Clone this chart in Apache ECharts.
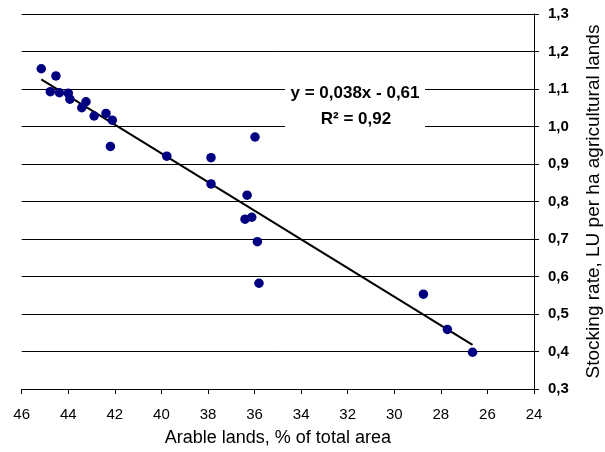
<!DOCTYPE html>
<html>
<head>
<meta charset="utf-8">
<script src="https://cdn.jsdelivr.net/npm/echarts@6/dist/echarts.min.js"></script>
<style>
html,body{margin:0;padding:0;background:#fff;}
#c{width:605px;height:452px;}
</style>
</head>
<body>
<div id="c"></div>
<script>
// Data
var arableLands = [45.16,44.53,44.77,44.38,44.00,43.93,43.24,43.42,42.89,42.38,42.11,42.19,39.77,37.87,35.98,37.87,36.32,36.41,36.12,35.88,35.81,28.75,27.72,26.64];
var stockingRate = [1.154,1.135,1.093,1.090,1.089,1.073,1.066,1.050,1.028,1.035,1.017,0.947,0.921,0.917,0.972,0.847,0.817,0.753,0.758,0.693,0.582,0.553,0.459,0.398];
var xTicks = [46,44,42,40,38,36,34,32,30,28,26,24];
var yTicks = ['0,3','0,4','0,5','0,6','0,7','0,8','0,9','1,0','1,1','1,2','1,3'];
var equationText = 'y = 0,038x - 0,61';
var r2Text = 'R\u00B2 = 0,92';

var points = arableLands.map(function(x,i){return [x, stockingRate[i]];});

// least squares trend line
var n = points.length, sx=0, sy=0, sxx=0, sxy=0;
points.forEach(function(p){sx+=p[0];sy+=p[1];sxx+=p[0]*p[0];sxy+=p[0]*p[1];});
var slope = (n*sxy - sx*sy)/(n*sxx - sx*sx);
var intercept = (sy - slope*sx)/n;
var xMin = Math.min.apply(null, arableLands), xMax = Math.max.apply(null, arableLands);
var trend = [[xMax, slope*xMax+intercept],[xMin, slope*xMin+intercept]];

var chart = echarts.init(document.getElementById('c'));
var font = 'Liberation Sans, Arial, sans-serif';
chart.setOption({
  animation:false,
  backgroundColor:'#fff',
  grid:{left:21.7, right:71, top:14, bottom:63, containLabel:false, outerBoundsMode:'none'},
  xAxis:{
    type:'value', inverse:true, min:24, max:46, interval:2,
    name:'Arable lands, % of total area', nameLocation:'middle', nameGap:40,
    nameTextStyle:{fontFamily:font, fontSize:18, color:'#000'},
    axisLine:{show:true, onZero:false, lineStyle:{color:'#000', width:1}},
    axisTick:{show:true, inside:false, length:5, lineStyle:{color:'#000'}},
    axisLabel:{fontFamily:font, fontSize:15, color:'#000', margin:18,
      formatter:function(v){ return xTicks.indexOf(v)>=0 ? String(v) : ''; }},
    splitLine:{show:false}
  },
  yAxis:{
    type:'value', position:'right', min:0.3, max:1.3, interval:0.1,
    name:'Stocking rate, LU per ha agricultural lands', nameLocation:'middle', nameGap:50, nameRotate:90,
    nameTextStyle:{fontFamily:font, fontSize:19, color:'#000'},
    axisLine:{show:true, lineStyle:{color:'#000', width:1}},
    axisTick:{show:true, inside:false, length:5, lineStyle:{color:'#000'}},
    axisLabel:{fontFamily:font, fontSize:15, fontWeight:'bold', color:'#000', margin:14,
      formatter:function(v){ var i=Math.round(v*10)-3; return yTicks[i]; }},
    splitLine:{show:true, lineStyle:{color:'#000', width:1}}
  },
  series:[
    {type:'line', data:trend, symbol:'none', lineStyle:{color:'#000', width:2}, z:2, silent:true},
    {type:'scatter', data:points, symbol:'circle', symbolSize:9.5, itemStyle:{color:'#000080', opacity:1}, z:3}
  ],
  graphic:[
    {type:'rect', left:285, top:79, shape:{width:140, height:55}, style:{fill:'#fff'}, z:10},
    {type:'text', x:355, y:85, style:{text:equationText, textAlign:'center', fontFamily:font, fontSize:17, fontWeight:'bold', fill:'#000'}, z:11},
    {type:'text', x:356, y:111, style:{text:r2Text, textAlign:'center', fontFamily:font, fontSize:17, fontWeight:'bold', fill:'#000'}, z:11}
  ]
});
</script>
</body>
</html>
